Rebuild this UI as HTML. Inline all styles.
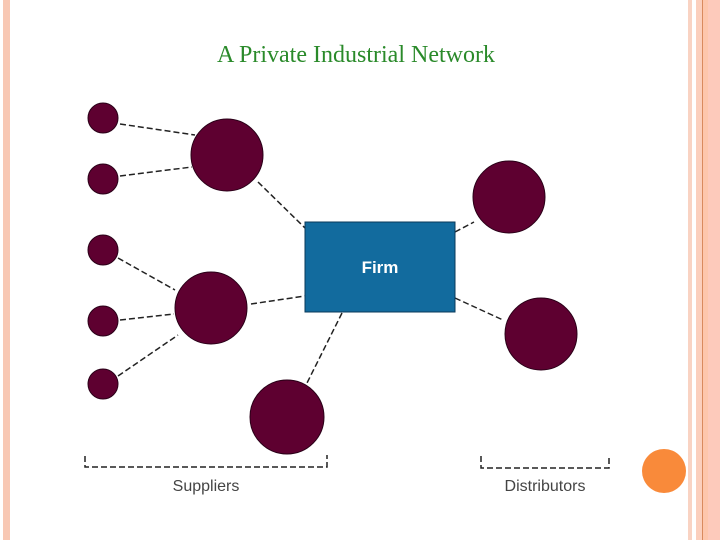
<!DOCTYPE html>
<html><head><style>
body{margin:0;width:720px;height:540px;overflow:hidden;background:#fff;position:relative;font-family:"Liberation Sans",sans-serif}
.s{position:absolute;top:0;height:540px}
</style></head><body>
<div class="s" style="left:3px;width:7px;background:#f8c8b4"></div>
<div class="s" style="left:688px;width:4px;background:#f9d3c3"></div>
<div class="s" style="left:696px;width:6px;background:#fbcfbd"></div>
<div class="s" style="left:702px;width:1px;background:#d98a5e"></div>
<div class="s" style="left:703px;width:5px;background:#fdc6ac"></div>
<div class="s" style="left:708px;width:12px;background:#fdcabb"></div>
<div style="position:absolute;left:0;width:712px;top:42px;text-align:center;font-family:'Liberation Serif',serif;font-size:24px;color:#2a8a2a">A Private Industrial Network</div>
<svg width="720" height="540" style="position:absolute;left:0;top:0">
<g stroke="#222" stroke-width="1.5" stroke-dasharray="6,3" fill="none">
<line x1="120" y1="124" x2="195" y2="135"/>
<line x1="120" y1="176" x2="192" y2="167"/>
<line x1="258" y1="182" x2="305" y2="228"/>
<line x1="118" y1="258" x2="175" y2="290"/>
<line x1="120" y1="320" x2="174" y2="314"/>
<line x1="118" y1="376" x2="178" y2="335"/>
<line x1="251" y1="304" x2="305" y2="296"/>
<line x1="342" y1="313" x2="307" y2="383"/>
<line x1="455" y1="232" x2="474" y2="222"/>
<line x1="455" y1="298" x2="503" y2="320"/>
<polyline points="85,456 85,467 327,467 327,455"/>
<polyline points="481,456 481,468 609,468 609,455"/>
</g>
<g fill="#5e0030" stroke="#2a0018" stroke-width="1">
<circle cx="103" cy="118" r="15"/><circle cx="103" cy="179" r="15"/>
<circle cx="103" cy="250" r="15"/><circle cx="103" cy="321" r="15"/>
<circle cx="103" cy="384" r="15"/>
<circle cx="227" cy="155" r="36"/><circle cx="211" cy="308" r="36"/>
<circle cx="287" cy="417" r="37"/><circle cx="509" cy="197" r="36"/>
<circle cx="541" cy="334" r="36"/>
</g>
<rect x="305" y="222" width="150" height="90" fill="#126b9e" stroke="#0a3a5a"/>
<text x="380" y="273" text-anchor="middle" fill="#fff" font-weight="bold" font-size="17" font-family="Liberation Sans">Firm</text>
<text x="206" y="491" text-anchor="middle" fill="#444" font-size="16" font-family="Liberation Sans">Suppliers</text>
<text x="545" y="491" text-anchor="middle" fill="#444" font-size="16" font-family="Liberation Sans">Distributors</text>
<circle cx="664" cy="471" r="22" fill="#f98a3a"/>
</svg>
</body></html>
